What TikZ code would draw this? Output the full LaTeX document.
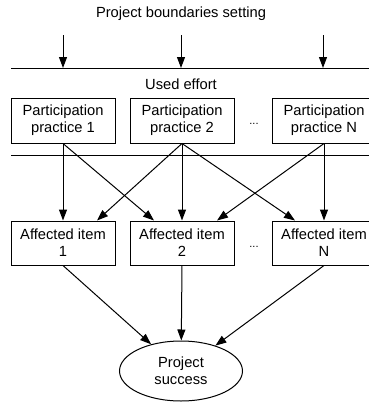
\documentclass[tikz,border=0pt]{standalone}
\usepackage{fontspec}
\setmainfont{Liberation Sans}
\usetikzlibrary{arrows.meta,shapes.geometric}
\begin{document}
\begin{tikzpicture}[x=1pt, y=-1pt, line width=1pt,
    >={Triangle[length=11pt,width=8pt]},
    every node/.style={font=\fontsize{14.7}{17}\selectfont},
    box/.style={draw, align=center, minimum width=104pt, minimum height=45pt, inner sep=2pt},
    dots/.style={font=\fontsize{11}{12}\selectfont, inner sep=0pt}]
    \useasboundingbox (0,0) rectangle (369,402);

    \node (bound) at (181,14) {Project boundaries setting};
    \coordinate (t1) at (63,35);
    \coordinate (t2) at (181,35);
    \coordinate (t3) at (323,35);
    \coordinate (l1) at (11,68);
    \coordinate (r1) at (372,68);
    \draw (l1) -- (r1);
    \draw[->] (t1) -- (t1 |- l1);
    \draw[->] (t2) -- (t2 |- l1);
    \draw[->] (t3) -- (t3 |- l1);

    \node (effort) at (181,84) {Used effort};

    \node[box] (p1) at (63,120.5) {Participation\\practice 1};
    \node[box] (p2) at (182,120.5) {Participation\\practice 2};
    \node[box] (pN) at (324,120.5) {Participation\\practice N};
    \node[dots] (pdots) at (254,124) {...};

    \coordinate (l2) at (11,155);
    \coordinate (r2) at (372,155);
    \draw (l2) -- (r2);

    \node[box, minimum height=44pt] (i1) at (63,243) {Affected item\\1};
    \node[box, minimum height=44pt] (i2) at (182,243) {Affected item\\2};
    \node[box, minimum height=44pt] (iN) at (324,243) {Affected item\\N};
    \node[dots] (idots) at (254,247) {...};

    \draw[->] (p1.south) -- (i1.north);
    \draw[->] (p1.south) -- ([xshift=-28pt]i2.north);
    \draw[->] (p2.south) -- ([xshift=34pt]i1.north);
    \draw[->] (p2.south) -- (i2.north);
    \draw[->] (p2.south) -- ([xshift=-29pt]iN.north);
    \draw[->] (pN.south) -- ([xshift=35pt]i2.north);
    \draw[->] (pN.south) -- (iN.north);

    \node[draw, ellipse, align=center, minimum width=123pt, minimum height=60pt, inner sep=0pt] (succ) at (181,371) {Project\\success};
    \draw[->] (i1.south) -- (succ);
    \draw[->] (i2.south) -- (succ);
    \draw[->] (iN.south) -- (succ);
\end{tikzpicture}
\end{document}
